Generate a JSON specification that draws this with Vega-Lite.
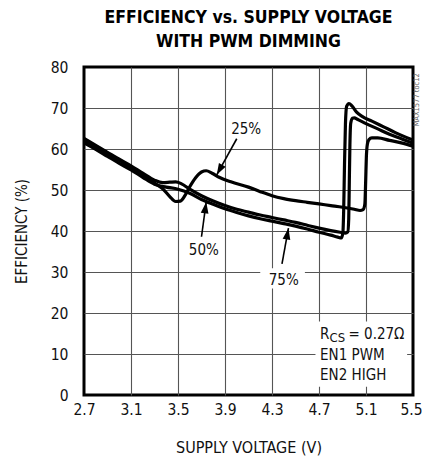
{
  "$schema": "https://vega.github.io/schema/vega-lite/v6.json",
  "width": 329,
  "height": 328,
  "autosize": {"type": "none"},
  "padding": {"left": 84, "top": 67, "right": 9, "bottom": 61},
  "background": "white",
  "config": {
    "font": "Liberation Sans Narrow, DejaVu Sans Condensed, sans-serif",
    "view": {"stroke": "black", "strokeWidth": 3}
  },
  "title": {
    "text": ["EFFICIENCY vs. SUPPLY VOLTAGE", "WITH PWM DIMMING"],
    "fontSize": 17.5,
    "fontWeight": "bold",
    "anchor": "middle",
    "offset": -8,
    "lineHeight": 24,
    "baseline": "bottom",
    "color": "#000"
  },
  "datasets": {
    "curves": [
      {"series": "25%", "x": 2.7, "y": 62.0}, {"series": "25%", "x": 2.8, "y": 60.4}, {"series": "25%", "x": 2.9, "y": 58.8}, {"series": "25%", "x": 3.0, "y": 57.2}, {"series": "25%", "x": 3.1, "y": 55.5}, {"series": "25%", "x": 3.2, "y": 53.7}, {"series": "25%", "x": 3.3, "y": 51.7}, {"series": "25%", "x": 3.37, "y": 50.3}, {"series": "25%", "x": 3.43, "y": 48.4}, {"series": "25%", "x": 3.48, "y": 47.2}, {"series": "25%", "x": 3.52, "y": 47.3}, {"series": "25%", "x": 3.56, "y": 48.7}, {"series": "25%", "x": 3.6, "y": 50.8}, {"series": "25%", "x": 3.65, "y": 53.0}, {"series": "25%", "x": 3.7, "y": 54.4}, {"series": "25%", "x": 3.74, "y": 54.7}, {"series": "25%", "x": 3.79, "y": 54.1}, {"series": "25%", "x": 3.85, "y": 53.1}, {"series": "25%", "x": 3.95, "y": 52.0}, {"series": "25%", "x": 4.1, "y": 50.7}, {"series": "25%", "x": 4.2, "y": 49.6}, {"series": "25%", "x": 4.3, "y": 48.6}, {"series": "25%", "x": 4.4, "y": 47.9}, {"series": "25%", "x": 4.5, "y": 47.4}, {"series": "25%", "x": 4.6, "y": 47.0}, {"series": "25%", "x": 4.7, "y": 46.6}, {"series": "25%", "x": 4.8, "y": 46.2}, {"series": "25%", "x": 4.9, "y": 45.8}, {"series": "25%", "x": 5.0, "y": 45.3}, {"series": "25%", "x": 5.05, "y": 45.0}, {"series": "25%", "x": 5.075, "y": 45.2}, {"series": "25%", "x": 5.09, "y": 46.5}, {"series": "25%", "x": 5.097, "y": 52.0}, {"series": "25%", "x": 5.103, "y": 58.0}, {"series": "25%", "x": 5.112, "y": 61.2}, {"series": "25%", "x": 5.125, "y": 62.3}, {"series": "25%", "x": 5.15, "y": 62.7}, {"series": "25%", "x": 5.2, "y": 62.7}, {"series": "25%", "x": 5.3, "y": 62.1}, {"series": "25%", "x": 5.4, "y": 61.5}, {"series": "25%", "x": 5.5, "y": 60.7},
      {"series": "75%", "x": 2.7, "y": 62.6}, {"series": "75%", "x": 2.8, "y": 60.9}, {"series": "75%", "x": 2.9, "y": 59.2}, {"series": "75%", "x": 3.0, "y": 57.5}, {"series": "75%", "x": 3.1, "y": 55.9}, {"series": "75%", "x": 3.2, "y": 54.1}, {"series": "75%", "x": 3.3, "y": 52.4}, {"series": "75%", "x": 3.37, "y": 51.8}, {"series": "75%", "x": 3.43, "y": 51.9}, {"series": "75%", "x": 3.48, "y": 52.0}, {"series": "75%", "x": 3.53, "y": 51.5}, {"series": "75%", "x": 3.6, "y": 50.2}, {"series": "75%", "x": 3.7, "y": 48.6}, {"series": "75%", "x": 3.8, "y": 47.3}, {"series": "75%", "x": 3.9, "y": 46.2}, {"series": "75%", "x": 4.0, "y": 45.3}, {"series": "75%", "x": 4.1, "y": 44.6}, {"series": "75%", "x": 4.2, "y": 43.9}, {"series": "75%", "x": 4.3, "y": 43.3}, {"series": "75%", "x": 4.4, "y": 42.7}, {"series": "75%", "x": 4.5, "y": 42.1}, {"series": "75%", "x": 4.6, "y": 41.4}, {"series": "75%", "x": 4.7, "y": 40.7}, {"series": "75%", "x": 4.8, "y": 40.1}, {"series": "75%", "x": 4.88, "y": 39.7}, {"series": "75%", "x": 4.925, "y": 39.5}, {"series": "75%", "x": 4.945, "y": 39.8}, {"series": "75%", "x": 4.953, "y": 43.0}, {"series": "75%", "x": 4.958, "y": 52.0}, {"series": "75%", "x": 4.963, "y": 61.0}, {"series": "75%", "x": 4.97, "y": 66.3}, {"series": "75%", "x": 4.985, "y": 67.5}, {"series": "75%", "x": 5.0, "y": 67.6}, {"series": "75%", "x": 5.03, "y": 67.2}, {"series": "75%", "x": 5.1, "y": 66.2}, {"series": "75%", "x": 5.2, "y": 64.9}, {"series": "75%", "x": 5.3, "y": 63.6}, {"series": "75%", "x": 5.4, "y": 62.5}, {"series": "75%", "x": 5.5, "y": 61.4},
      {"series": "50%", "x": 2.7, "y": 61.5}, {"series": "50%", "x": 2.8, "y": 59.9}, {"series": "50%", "x": 2.9, "y": 58.2}, {"series": "50%", "x": 3.0, "y": 56.5}, {"series": "50%", "x": 3.1, "y": 54.9}, {"series": "50%", "x": 3.2, "y": 53.1}, {"series": "50%", "x": 3.3, "y": 51.4}, {"series": "50%", "x": 3.4, "y": 50.7}, {"series": "50%", "x": 3.5, "y": 50.2}, {"series": "50%", "x": 3.6, "y": 49.2}, {"series": "50%", "x": 3.7, "y": 47.7}, {"series": "50%", "x": 3.8, "y": 46.5}, {"series": "50%", "x": 3.9, "y": 45.4}, {"series": "50%", "x": 4.0, "y": 44.5}, {"series": "50%", "x": 4.1, "y": 43.7}, {"series": "50%", "x": 4.2, "y": 43.0}, {"series": "50%", "x": 4.3, "y": 42.4}, {"series": "50%", "x": 4.4, "y": 41.8}, {"series": "50%", "x": 4.5, "y": 41.2}, {"series": "50%", "x": 4.6, "y": 40.5}, {"series": "50%", "x": 4.7, "y": 39.7}, {"series": "50%", "x": 4.8, "y": 39.0}, {"series": "50%", "x": 4.86, "y": 38.5}, {"series": "50%", "x": 4.89, "y": 38.3}, {"series": "50%", "x": 4.903, "y": 39.5}, {"series": "50%", "x": 4.91, "y": 45.0}, {"series": "50%", "x": 4.917, "y": 56.0}, {"series": "50%", "x": 4.925, "y": 66.0}, {"series": "50%", "x": 4.935, "y": 70.4}, {"series": "50%", "x": 4.955, "y": 71.1}, {"series": "50%", "x": 4.98, "y": 70.5}, {"series": "50%", "x": 5.02, "y": 69.0}, {"series": "50%", "x": 5.07, "y": 67.9}, {"series": "50%", "x": 5.15, "y": 66.8}, {"series": "50%", "x": 5.25, "y": 65.4}, {"series": "50%", "x": 5.35, "y": 64.0}, {"series": "50%", "x": 5.5, "y": 62.2}
    ],
    "boxes": [
      {"x": 4.67, "x2": 5.45, "y": 2.0, "y2": 17.9},
      {"x": 4.2, "x2": 4.58, "y": 26.0, "y2": 30.9}
    ],
    "arrows": [
      {"x": 3.83, "y": 53.7, "x2": 4.0, "y2": 62.5, "a": 209},
      {"x": 3.74, "y": 47.1, "x2": 3.70, "y2": 38.6, "a": 8},
      {"x": 4.44, "y": 40.7, "x2": 4.385, "y2": 32.0, "a": 10}
    ],
    "pct": [
      {"x": 4.08, "y": 65.0, "t": "25%"},
      {"x": 3.72, "y": 35.4, "t": "50%"},
      {"x": 4.40, "y": 28.0, "t": "75%"}
    ],
    "note": [
      {"x": 4.709, "y": 13.6, "t": "R"},
      {"x": 4.951, "y": 13.6, "t": "= 0.27Ω"},
      {"x": 4.709, "y": 8.54, "t": "EN1 PWM"},
      {"x": 4.709, "y": 3.66, "t": "EN2 HIGH"}
    ],
    "sub": [
      {"x": 4.79, "y": 12.9, "t": "CS"}
    ],
    "tag": [
      {"x": 5.535, "y": 72.0, "t": "MAX1577 toc12"}
    ]
  },
  "encoding": {
    "x": {
      "field": "x", "type": "quantitative",
      "scale": {"domain": [2.7, 5.5], "nice": false, "zero": false},
      "axis": {
        "values": [2.7, 3.1, 3.5, 3.9, 4.3, 4.7, 5.1, 5.5],
        "format": ".1f",
        "title": "SUPPLY VOLTAGE (V)",
        "ticks": false, "domain": false,
        "labelPadding": 7, "labelFontSize": 15.5, "labelColor": "#111",
        "labelFlush": false, "labelOverlap": false,
        "labelOffset": {"condition": {"test": "datum.value > 5.49", "value": -2}, "value": 0},
        "titleFontSize": 16, "titleFontWeight": "normal", "titleColor": "#111", "titlePadding": 22,
        "grid": true, "gridColor": "#555", "gridWidth": 1.1,
        "gridOpacity": {"condition": {"test": "datum.value < 2.71 || datum.value > 5.49", "value": 0}, "value": 1}
      }
    },
    "y": {
      "field": "y", "type": "quantitative",
      "scale": {"domain": [0, 80], "nice": false},
      "axis": {
        "values": [0, 10, 20, 30, 40, 50, 60, 70, 80],
        "title": "EFFICIENCY (%)",
        "ticks": false, "domain": false,
        "labelPadding": 16, "labelFontSize": 15.5, "labelColor": "#111",
        "titleFontSize": 15, "titleFontWeight": "normal", "titleColor": "#111", "titlePadding": 21,
        "grid": true, "gridColor": "#555", "gridWidth": 1.1,
        "gridOpacity": {"condition": {"test": "datum.value < 0.5 || datum.value > 79.5", "value": 0}, "value": 1}
      }
    }
  },
  "layer": [
    {
      "data": {"name": "boxes"},
      "mark": {"type": "rect", "fill": "white", "stroke": null},
      "encoding": {"x2": {"field": "x2"}, "y2": {"field": "y2"}}
    },
    {
      "data": {"name": "curves"},
      "mark": {"type": "line", "color": "#000", "strokeWidth": 3.2, "interpolate": "monotone"},
      "encoding": {"detail": {"field": "series", "type": "nominal"}}
    },
    {
      "data": {"name": "arrows"},
      "mark": {"type": "rule", "color": "#000", "strokeWidth": 1.6},
      "encoding": {"x2": {"field": "x2"}, "y2": {"field": "y2"}}
    },
    {
      "data": {"name": "arrows"},
      "mark": {"type": "point", "filled": true, "color": "#000", "opacity": 1, "shape": "M0,0L-0.34,1L0.34,1Z", "size": 520},
      "encoding": {"angle": {"field": "a", "type": "quantitative", "scale": null}}
    },
    {
      "data": {"name": "pct"},
      "mark": {"type": "text", "align": "center", "baseline": "middle", "fontSize": 15, "color": "#111"},
      "encoding": {"text": {"field": "t"}}
    },
    {
      "data": {"name": "note"},
      "mark": {"type": "text", "align": "left", "baseline": "alphabetic", "fontSize": 15, "color": "#111"},
      "encoding": {"text": {"field": "t"}}
    },
    {
      "data": {"name": "sub"},
      "mark": {"type": "text", "align": "left", "baseline": "alphabetic", "fontSize": 13, "color": "#111"},
      "encoding": {"text": {"field": "t"}}
    },
    {
      "data": {"name": "tag"},
      "mark": {"type": "text", "align": "center", "baseline": "middle", "fontSize": 7.5, "angle": 270, "color": "#666"},
      "encoding": {"text": {"field": "t"}}
    }
  ]
}
